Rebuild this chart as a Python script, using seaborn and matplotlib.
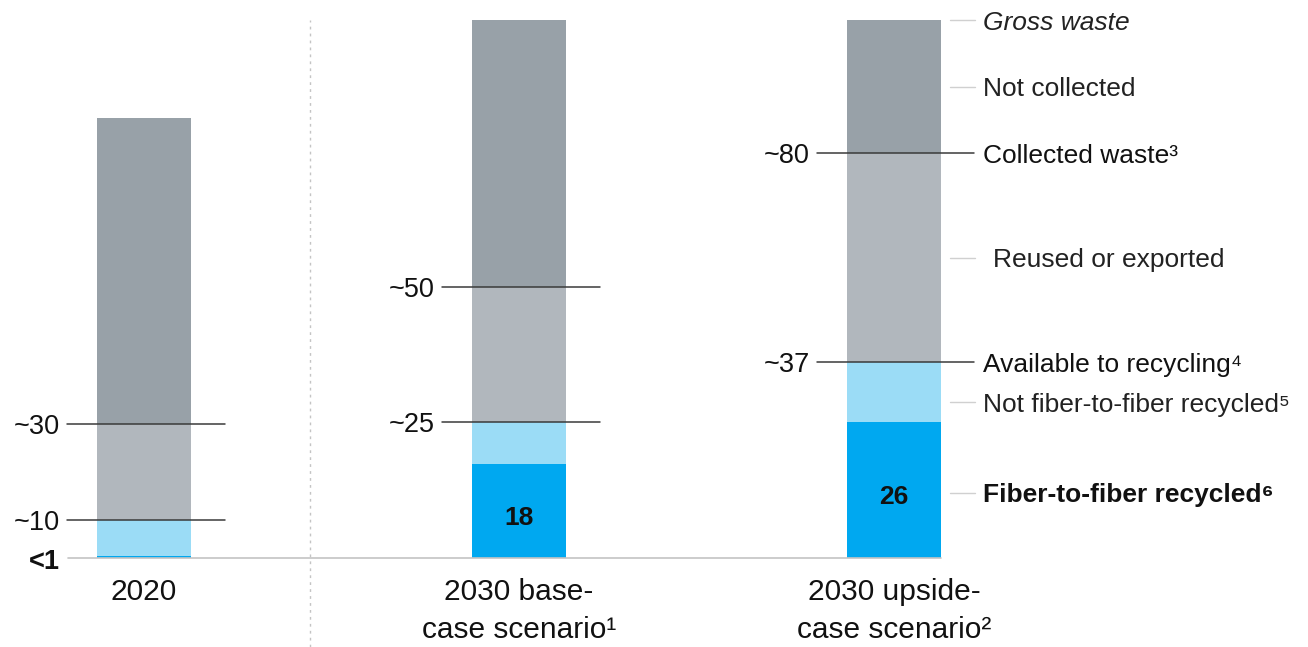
import matplotlib
matplotlib.use("Agg")
import matplotlib.pyplot as plt
import seaborn as sns
import pandas as pd

# ---- data (bar heights as drawn) ----
categories = ["2020", "2030 base-case", "2030 upside-case"]
cat_labels = ["2020", "2030 base-\ncase scenario¹", "2030 upside-\ncase scenario²"]
gross_waste = [87.0, 106.3, 106.3]
collected = [26.5, 53.6, 80.0]
available = [7.5, 26.9, 38.7]
fiber_to_fiber = [0.4, 18.6, 26.9]
collected_labels = ["~30", "~50", "~80"]
available_labels = ["~10", "~25", "~37"]
f2f_labels = ["<1", "18", "26"]
segment_names = ["Gross waste", "Not collected", "Collected waste³", "Reused or exported",
                 "Available to recycling⁴", "Not fiber-to-fiber recycled⁵", "Fiber-to-fiber recycled⁶"]

# ---- style ----
sns.set_theme(style="white")
FONT = ["Liberation Sans", "DejaVu Sans"]
plt.rcParams["font.family"] = FONT

C_NOTCOL = "#98a1a8"
C_REUSE = "#b1b7bd"
C_NOTF2F = "#9bdcf6"
C_F2F = "#00a8f0"

fig = plt.figure(figsize=(13.08, 6.47), dpi=100)
ax = fig.add_axes([0, 0, 1, 1])

df = pd.DataFrame({"cat": categories, "gross": gross_waste, "collected": collected,
                   "available": available, "f2f": fiber_to_fiber})

for col, color in [("gross", C_NOTCOL), ("collected", C_REUSE),
                   ("available", C_NOTF2F), ("f2f", C_F2F)]:
    sns.barplot(data=df, x="cat", y=col, order=categories, color=color,
                width=0.25, saturation=1, ax=ax, edgecolor="none", linewidth=0)

ax.set_xlim(-0.384, 3.104)
ax.set_ylim(-17.6, 110.3)
ax.axis("off")

# baseline
ax.plot([-0.203, 2 + 0.125], [0, 0], color="#c4c4c4", lw=1.2, zorder=1)

# dotted divider
ax.plot([0.443, 0.443], [-17.6, 106.3], color="#c4c4c4", lw=1.0, ls=(0, (2, 3)), zorder=0)

# marker lines + left labels
fs_num = 19.5
for i in range(3):
    for val, lab in [(collected[i], collected_labels[i]), (available[i], available_labels[i])]:
        right = 0.215 if i < 2 else 0.212
        ax.plot([i - 0.205, i + right], [val, val], color="#3a3a3a", lw=1.1, zorder=5)
        ax.text(i - 0.225, val, lab, ha="right", va="center_baseline", fontsize=fs_num,
                color="#111111", family=FONT)

# <1 label for 2020
ax.text(0 - 0.225, fiber_to_fiber[0] - 0.6, f2f_labels[0], ha="right", va="center_baseline",
        fontsize=fs_num, color="#111111", fontweight="bold", family=FONT)
# numbers inside bars
for i in (1, 2):
    ax.text(i, fiber_to_fiber[i] / 2 - 1.0, f2f_labels[i], ha="center", va="center_baseline",
            fontsize=19, fontweight="bold", color="#111111", family=FONT)

# category labels
for i, lab in enumerate(cat_labels):
    ax.text(i, -4.0, lab, ha="center", va="top", fontsize=21.5, color="#111111",
            linespacing=1.45, family=FONT)

# right-hand segment labels for upside bar
g, c, a, f = gross_waste[2], collected[2], available[2], fiber_to_fiber[2]
label_y = [g, (g + c) / 2, c, (c + a) / 2, a, (a + f) / 2 - 2.0, f / 2 - 0.6]
tick_x0, tick_x1, text_x = 2.15, 2.215, 2.237
for k, (y, name) in enumerate(zip(label_y, segment_names)):
    kw = dict(fontsize=19, color="#222222", va="center_baseline", ha="left", family=FONT)
    if k == 0:
        kw["style"] = "italic"
    if k == 6:
        kw["fontweight"] = "bold"
        kw["color"] = "#111111"
    if k in (2, 4):
        kw["color"] = "#111111"
    else:
        ax.plot([tick_x0, tick_x1], [y, y], color="#d0d0d0", lw=1.0)
    x = text_x + (0.027 if k == 3 else 0)
    ax.text(x, y, name, **kw)

fig.savefig("out.png", dpi=100)
